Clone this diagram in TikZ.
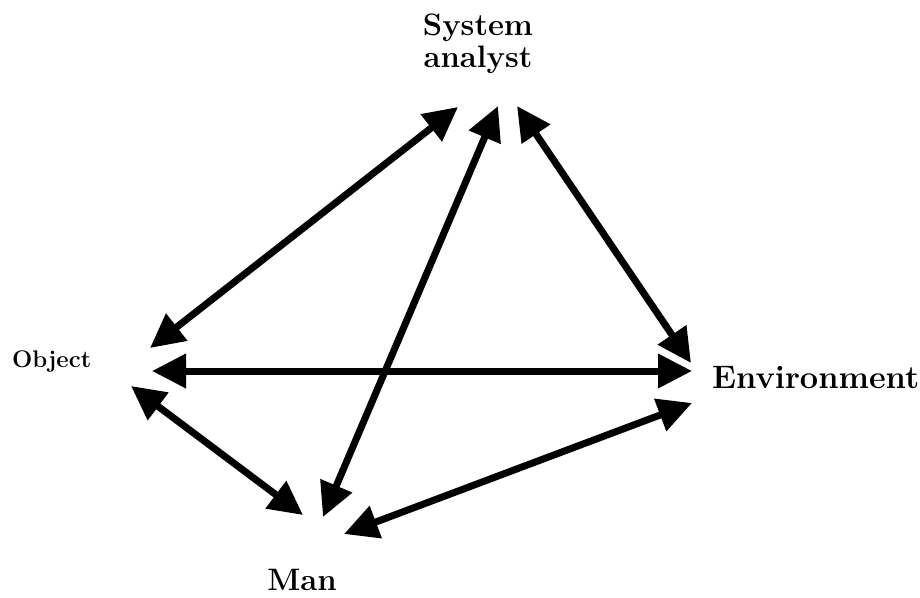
\documentclass[tikz,border=0pt]{standalone}
\usetikzlibrary{arrows.meta}
\begin{document}
\begin{tikzpicture}[x=1pt,y=-1pt,
  link/.style={line width=7pt,{Triangle[length=34pt,width=33pt]}-{Triangle[length=34pt,width=33pt]}},
  lbl/.style={font=\fontsize{31}{32}\selectfont\bfseries,inner sep=0pt},
  lblwide/.style={font=\fontsize{32.5}{34}\selectfont\bfseries,inner sep=0pt},
  lblsmall/.style={font=\fontsize{24}{26}\selectfont\bfseries,inner sep=0pt}]
\useasboundingbox (0,0) rectangle (920,597);
% labels
\node[lbl,align=center] (sys) at (478,44) {System\\analyst};
\node[lblsmall,anchor=base west] (obj) at (12,367) {Object};
\node[lblwide,anchor=base west] (env) at (712,388) {Environment};
\node[lbl,anchor=base] (man) at (302,590) {Man};
% connector ends
\coordinate (sa1) at (458,107);
\coordinate (sa2) at (498,106);
\coordinate (sa3) at (517,106);
\coordinate (ob1) at (150,348);
\coordinate (ob2) at (152,371);
\coordinate (ob3) at (131,386);
\coordinate (en1) at (691,363);
\coordinate (en2) at (692,371);
\coordinate (en3) at (692,403);
\coordinate (mn1) at (303,515);
\coordinate (mn2) at (323,517);
\coordinate (mn3) at (344,534);
% connectors
\draw[link] (sa1) -- (ob1);
\draw[link] (sa2) -- (mn2);
\draw[link] (sa3) -- (en1);
\draw[link] (ob2) -- (en2);
\draw[link] (ob3) -- (mn1);
\draw[link] (en3) -- (mn3);
\end{tikzpicture}
\end{document}
